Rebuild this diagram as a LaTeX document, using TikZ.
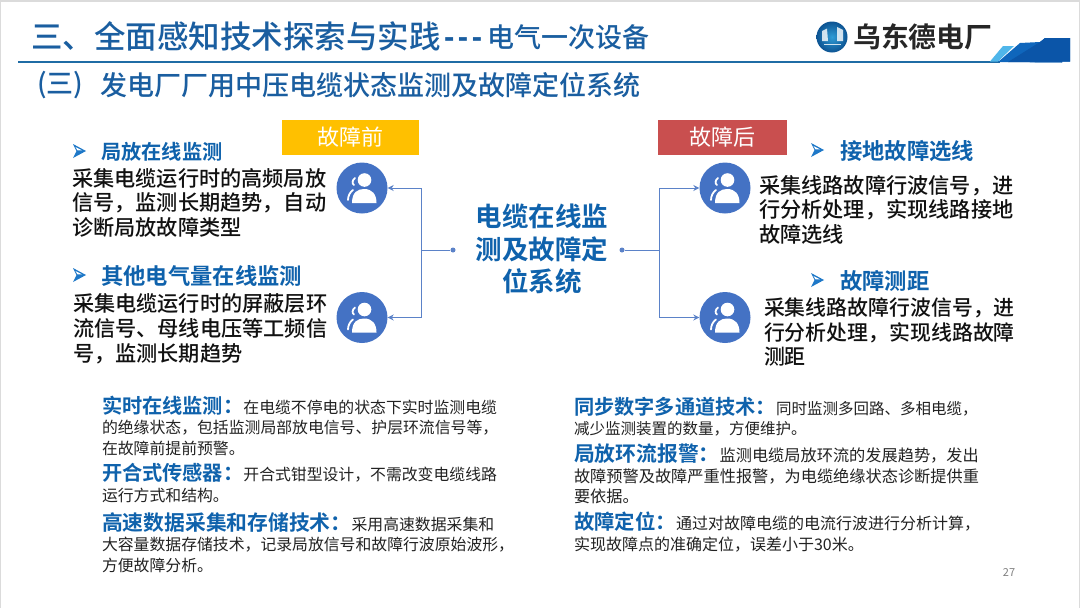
\documentclass[tikz,border=0pt]{standalone}
\usetikzlibrary{arrows.meta}
\usepackage{fontspec}
\setmainfont{Noto Sans CJK SC}
\newfontfamily\boldcjk{Noto Sans CJK SC Bold}
\newfontfamily\medcjk{Noto Sans CJK SC Medium}
\newfontfamily\dashfont{Liberation Sans}
\definecolor{titleblue}{HTML}{1A5EA0}
\definecolor{headblue}{HTML}{0F62AC}
\definecolor{rulec}{HTML}{1F6CA5}
\definecolor{circ}{HTML}{4472C4}
\definecolor{linec}{HTML}{5B82C8}
\definecolor{amber}{HTML}{FFC000}
\definecolor{redb}{HTML}{C94F4F}
\definecolor{txt}{HTML}{111111}
\definecolor{gtxt}{HTML}{222222}
\definecolor{bullet}{HTML}{1E78C8}
\definecolor{cornermid}{HTML}{0F66BC}
\definecolor{cornerdark}{HTML}{0B55A8}
\definecolor{cornerlight}{HTML}{4FB6EA}
\newcommand{\hd}[2][20.2]{{\boldcjk\fontsize{#1}{20.5}\selectfont\color{headblue}#2}}
\tikzset{
 x=1pt,y=-1pt,
 blk/.style={anchor=north west,inner sep=0pt,outer sep=0pt,align=left,text=txt},
 big/.style={blk,font=\medcjk\fontsize{21.2}{24.6}\selectfont},
 small/.style={blk,font=\fontsize{#1}{20.5}\selectfont,text=gtxt},
 small/.default=15.85,
 head/.style={anchor=west,inner sep=0pt,text=headblue,font=\boldcjk\fontsize{22.3}{26}\selectfont},
 conn/.style={draw=linec,line width=1pt},
 person/.style={circle,fill=circ,minimum size=51pt,inner sep=0pt},
 tag/.style={minimum height=35pt,inner sep=0pt,font=\fontsize{22}{26}\selectfont,text=white},
 dotn/.style={circle,fill=linec,minimum size=5pt,inner sep=0pt},
}
\newcommand{\personicon}[1]{%
 \begin{scope}[shift={(#1)}]
  \fill[white] (2.5,-8) circle (6.8);
  \fill[white] (-10,15) .. controls (-10,4) and (-4,1) .. (2,1) .. controls (10,1) and (14.5,6) .. (14.5,15) -- cycle;
  \draw[white,line width=1.8pt,line cap=round] (-7,-10) .. controls (-10,-8) and (-10,-4) .. (-8,-3);
  \draw[white,line width=1.8pt,line cap=round] (-9,2) .. controls (-12,4) and (-14,8) .. (-14,12);
 \end{scope}}
\newcommand{\bulletmark}[1]{%
 \begin{scope}[shift={(#1)}]
 \fill[bullet] (0,-7) -- (13,0) -- (0,7) -- (3.5,0) -- cycle;
 \fill[white] (2.5,-4) -- (9,-.6) -- (4.5,-.6) -- cycle;
 \end{scope}}
\begin{document}
\begin{tikzpicture}
\useasboundingbox (0,0) rectangle (1080,608);
\fill[white] (0,0) rectangle (1080,608);
\fill[black!14] (0,0) rectangle (1080,2);
\fill[black!14] (0,0) rectangle (1,608);
\fill[black!14] (1079,0) rectangle (1080,608);
% header
\node[anchor=west,inner sep=0pt,text=titleblue,font=\medcjk\fontsize{31.5}{36}\selectfont] (title) at (31,36) {三、全面感知技术探索与实践};
\node[anchor=base west,inner sep=0pt,text=titleblue,font=\dashfont\bfseries\fontsize{31}{34}\selectfont] (dash) at (444,47.5) {{-}\kern3.5pt{-}\kern3.5pt{-}};
\node[anchor=west,inner sep=0pt,text=titleblue,font=\medcjk\fontsize{27}{30}\selectfont] (title2) at (487,37) {电气一次设备};
\coordinate (ruleL) at (18,62);
\coordinate (ruleR) at (1000,62);
\draw[rulec,line width=1.6pt] (ruleL) -- (ruleR);
\fill[cornerlight] (990,61.5) -- (1003,46) -- (1014,46) -- (998,61.5) -- cycle;
\fill[cornermid] (998,62) -- (1020,43) -- (1040,42) -- (1045,38) -- (1070,38) -- (1070,61.5) -- (1062,61.5) -- (1062,62.5) -- cycle;
\fill[cornerdark] (1008,62) -- (1040,42) -- (1045,38) -- (1070,38) -- (1070,61.5) -- (1062,61.5) -- (1062,62.5) -- cycle;
\shade[inner color=circ!70!cyan,outer color=headblue!85!black] (832,37) circle (15.5);
\fill[white,opacity=.8] (822,41) -- (822,31) -- (827,28.5) -- (828,41) -- cycle (837,41) -- (837,27) -- (843,30) -- (843,41) -- cycle;
\draw[white,opacity=.8,line width=1pt] (824,44) -- (841,44);
\node[anchor=west,inner sep=0pt,font=\boldcjk\fontsize{27.8}{30}\selectfont,text=black!85] (logo) at (853,37) {乌东德电厂};
\node[anchor=west,inner sep=0pt,text=titleblue,font=\medcjk\fontsize{27}{30}\selectfont] (sub) at (37,85) {(三)};
\node[anchor=west,inner sep=0pt,text=titleblue,font=\medcjk\fontsize{27}{30}\selectfont] (sub2) at (100,85) {发电厂厂用中压电缆状态监测及故障定位系统};
% tags
\node[tag,fill=amber,minimum width=137pt] (before) at (350.5,137) {故障前};
\node[tag,fill=redb,minimum width=129pt] (after) at (722.5,137) {故障后};
% center
\node[inner sep=0pt,align=center,text=headblue,font=\boldcjk\fontsize{26.5}{32.5}\selectfont] (center) at (542,249) {电缆在线监\\测及故障定\\位系统};
% circles
\node[person] (p1) at (362,188) {}; \personicon{362,188}
\node[person] (p2) at (362,317.5) {}; \personicon{362,317.5}
\node[person] (p3) at (725,188) {}; \personicon{725,188}
\node[person] (p4) at (725,317.5) {}; \personicon{725,317.5}
% connectors
\node[dotn] (dl) at (453,250) {};
\node[dotn] (dr) at (622,250) {};
\coordinate (jl) at (421.5,250);
\coordinate (jr) at (659.5,250);
\draw[conn] (dl) -- (jl);
\draw[conn] (dr) -- (jr);
\draw[conn,-{Stealth[length=6pt,width=6pt]}] (jl) |- (p1.east);
\draw[conn,-{Stealth[length=6pt,width=6pt,open]}] (jl) |- (p2.east);
\draw[conn,-{Stealth[length=6pt,width=6pt]}] (jr) |- (p3.west);
\draw[conn,-{Stealth[length=6pt,width=6pt]}] (jr) |- (p4.west);
% upper left
\bulletmark{73,151}
\node[head,font=\boldcjk\fontsize{20.2}{24}\selectfont] (h1) at (101,152) {局放在线监测};
\node[big] (t1) at (72,168) {采集电缆运行时的高频局放\\信号，监测长期趋势，自动\\诊断局放故障类型};
\bulletmark{73,275}
\node[head] (h2) at (101,276) {其他电气量在线监测};
\node[big] (t2) at (73,294) {采集电缆运行时的屏蔽层环\\流信号、母线电压等工频信\\号，监测长期趋势};
% upper right
\bulletmark{811,150}
\node[head] (h3) at (840,151) {接地故障选线};
\node[big] (t3) at (759,175) {采集线路故障行波信号，进\\行分析处理，实现线路接地\\故障选线};
\bulletmark{811,280}
\node[head] (h4) at (840,280.5) {故障测距};
\node[big,font=\medcjk\fontsize{20.9}{24.6}\selectfont] (t4) at (764,298) {采集线路故障行波信号，进\\行分析处理，实现线路故障\\测距};
% lower left
\node[small] (b1) at (102,396) {\hd{实时在线监测：}在电缆不停电的状态下实时监测电缆\\的绝缘状态，包括监测局部放电信号、护层环流信号等，\\在故障前提前预警。};
\node[small] (b2) at (102,463.5) {\hd{开合式传感器：}开合式钳型设计，不需改变电缆线路\\运行方式和结构。};
\node[small] (b3) at (102,512.5) {\hd[20.8]{高速数据采集和存储技术：}采用高速数据采集和\\大容量数据存储技术，记录局放信号和故障行波原始波形，\\方便故障分析。};
% lower right
\node[small=15.5] (b4) at (574,397) {\hd{同步数字多通道技术：}同时监测多回路、多相电缆，\\减少监测装置的数量，方便维护。};
\node[small=16.2] (b5) at (574,444) {\hd[20.8]{局放环流报警：}监测电缆局放环流的发展趋势，发出\\故障预警及故障严重性报警，为电缆绝缘状态诊断提供重\\要依据。};
\node[small=16] (b6) at (574,512) {\hd[20.4]{故障定位：}通过对故障电缆的电流行波进行分析计算，\\实现故障点的准确定位，误差小于30米。};
\node[anchor=center,inner sep=0pt,text=black!50,font=\fontsize{11}{13}\selectfont] (pg) at (1009,573) {27};
\end{tikzpicture}
\end{document}
